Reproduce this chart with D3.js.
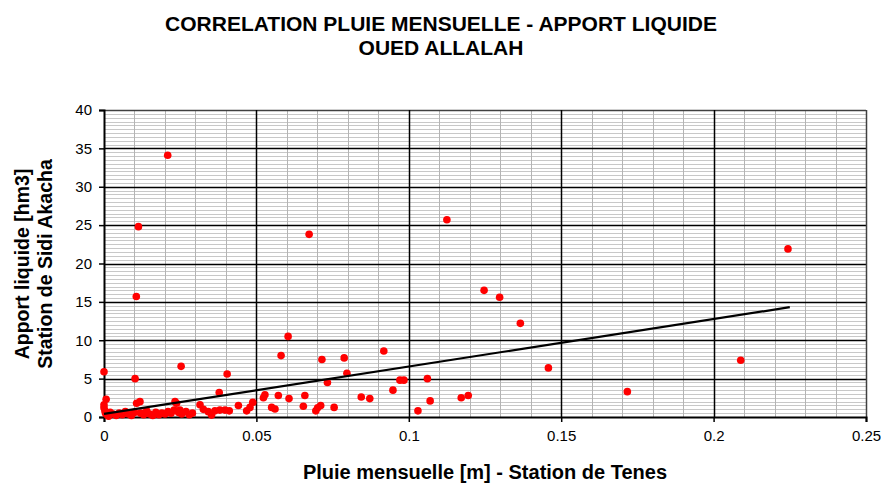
<!DOCTYPE html>
<html>
<head>
<meta charset="utf-8">
<script src="https://cdn.jsdelivr.net/npm/d3@7"></script>
<style>
  html, body { margin: 0; padding: 0; background: #fff; }
  svg { display: block; font-family: "Liberation Sans", Arial, sans-serif; }
</style>
</head>
<body>
<svg id="chart" width="881" height="484"></svg>
<script>
// Monthly rainfall at Tenes (m) versus runoff volume at Sidi Akacha (hm3)
const pluie = [
  0.0209, 0.0113, 0.0106, 0.0102, 0.0000, 0.0253, 0.0404,
  0.0673, 0.1125, 0.1247, 0.1298, 0.0604, 0.0581, 0.0918, 0.0715, 0.0788,
  0.2244, 0.1366, 0.1458, 0.2089, 0.1717, 0.1172, 0.1195,
  0.0797, 0.0971, 0.0984, 0.1061, 0.0948, 0.0844, 0.0872, 0.1070, 0.1030,
  0.0733, 0.0528, 0.0523, 0.0572, 0.0607, 0.0659, 0.0550, 0.0561, 0.0654, 0.0695, 0.0701, 0.0711, 0.0755, 0.0488, 0.0479,
  0.0378, 0.0315, 0.0326, 0.0342, 0.0353, 0.0364, 0.0380, 0.0397, 0.0411, 0.0441, 0.0468, 0.0269, 0.0249,
  0.0007, 0.0000, 0.0000, 0.0003, 0.0005, 0.0010, 0.0015, 0.0020, 0.0030, 0.0040, 0.0050, 0.0060,
  0.0070, 0.0080, 0.0090, 0.0100, 0.0107, 0.0118, 0.0120, 0.0130, 0.0140, 0.0150, 0.0160, 0.0170,
  0.0180, 0.0190, 0.0200, 0.0210, 0.0220, 0.0233, 0.0238, 0.0230, 0.0245, 0.0255, 0.0280, 0.0290
];
const apport = [
  34.1, 24.8, 15.7, 5.0, 5.9, 6.6, 5.6,
  23.8, 25.7, 16.5, 15.6, 10.5, 8.0, 8.6, 7.5, 7.7,
  21.9, 12.2, 6.4, 7.4, 3.3, 2.5, 2.8,
  5.7, 4.8, 4.8, 5.0, 3.5, 2.6, 2.4, 2.1, 0.8,
  4.5, 2.9, 2.5, 2.8, 2.4, 2.8, 1.25, 1.05, 1.4, 0.8, 1.2, 1.5, 1.25, 1.9, 1.25,
  3.2, 1.6, 1.0, 0.7, 0.25, 0.8, 0.9, 0.9, 0.8, 1.5, 0.8, 0.7, 0.9,
  2.3, 1.6, 1.2, 0.8, 0.5, 0.3, 0.1, 0.6, 0.4, 0.2, 0.5, 0.3,
  0.7, 0.4, 0.2, 0.6, 1.8, 2.0, 0.5, 0.3, 0.8, 0.4, 0.2, 0.6,
  0.3, 0.5, 0.4, 0.7, 0.5, 2.0, 1.8, 0.9, 0.6, 0.4, 0.3, 0.5
];

// Linear trend (apport = a * pluie + b) drawn over the observed rainfall range
const trendCoef = [61.8, 0.4];
const trendRange = [0, 0.225];

const xTicks = [0, 0.05, 0.1, 0.15, 0.2, 0.25];
const yTicks = [0, 5, 10, 15, 20, 25, 30, 35, 40];
const titleLines = ["CORRELATION PLUIE MENSUELLE - APPORT LIQUIDE", "OUED ALLALAH"];
const yTitleLines = ["Apport liquide [hm3]", "Station de Sidi Akacha"];
const xTitle = "Pluie mensuelle [m] - Station de Tenes";

const svg = d3.select("#chart");
const plot = { left: 104, right: 866, top: 110, bottom: 417 };

const x = d3.scaleLinear().domain([0, 0.25]).range([plot.left, plot.right]);
const y = d3.scaleLinear().domain([0, 40]).range([plot.bottom, plot.top]);

const g = svg.append("g");

// minor grid
const xMinor = d3.range(0, 0.2501, 0.01).filter(v => Math.abs(v / 0.05 - Math.round(v / 0.05)) > 1e-6);
const yMinor = d3.range(0, 40.01, 0.5).filter(v => Math.abs(v / 5 - Math.round(v / 5)) > 1e-6);

g.selectAll("line.hmin").data(yMinor).join("line")
  .attr("x1", plot.left).attr("x2", plot.right)
  .attr("y1", d => Math.round(y(d)) + 0.5).attr("y2", d => Math.round(y(d)) + 0.5)
  .attr("stroke", "#c8c8c8").attr("stroke-width", 1);

g.selectAll("line.vmin").data(xMinor).join("line")
  .attr("y1", plot.top).attr("y2", plot.bottom)
  .attr("x1", d => Math.round(x(d)) + 0.5).attr("x2", d => Math.round(x(d)) + 0.5)
  .attr("stroke", "#b4b4b4").attr("stroke-width", 1);

// major grid
g.selectAll("line.hmaj").data(yTicks.slice(1)).join("line")
  .attr("x1", plot.left).attr("x2", plot.right)
  .attr("y1", d => Math.round(y(d)) + 0.5).attr("y2", d => Math.round(y(d)) + 0.5)
  .attr("stroke", d => d === 40 ? "#404040" : "#000").attr("stroke-width", 1.5);

g.selectAll("line.vmaj").data(xTicks.slice(1)).join("line")
  .attr("y1", plot.top).attr("y2", plot.bottom)
  .attr("x1", d => Math.round(x(d)) + 0.5).attr("x2", d => Math.round(x(d)) + 0.5)
  .attr("stroke", d => d === 0.25 ? "#404040" : "#000").attr("stroke-width", 1.5);

// axes
const xAxis = d3.axisBottom(x).tickValues(xTicks).tickSize(5).tickPadding(8)
  .tickFormat(d => d === 0 ? "0" : String(d));
const yAxis = d3.axisLeft(y).tickValues(yTicks).tickSize(5).tickPadding(7)
  .tickFormat(d3.format("d"));

const gx = svg.append("g").attr("transform", `translate(0,${plot.bottom})`).call(xAxis);
const gy = svg.append("g").attr("transform", `translate(${plot.left},0)`).call(yAxis);
[gx, gy].forEach(a => {
  a.select(".domain").attr("stroke", "#000").attr("stroke-width", 2);
  a.selectAll(".tick line").attr("stroke", "#000").attr("stroke-width", 1.5);
  a.selectAll(".tick text").attr("fill", "#000").attr("font-size", 15)
    .attr("font-family", "'Liberation Sans', Arial, sans-serif");
});

// points
const pts = pluie.map((p, i) => ({ p, a: apport[i] }));
svg.append("g").selectAll("circle").data(pts).join("circle")
  .attr("cx", d => x(d.p)).attr("cy", d => y(d.a)).attr("r", 3.8)
  .attr("fill", "#ff0000");

// trend line
const line = d3.line().x(d => x(d)).y(d => y(trendCoef[0] * d + trendCoef[1]));
svg.append("path").datum(trendRange).attr("d", line)
  .attr("fill", "none").attr("stroke", "#000").attr("stroke-width", 2.2);

// titles
svg.append("g").selectAll("text").data(titleLines).join("text")
  .attr("x", 441).attr("y", (d, i) => 31 + i * 24)
  .attr("text-anchor", "middle").attr("font-weight", "bold").attr("font-size", 21)
  .text(d => d);

svg.append("g").selectAll("text").data(yTitleLines).join("text")
  .attr("transform", (d, i) => `translate(${29 + i * 23},${264}) rotate(-90)`)
  .attr("text-anchor", "middle").attr("font-weight", "bold").attr("font-size", 19.5)
  .text(d => d);

svg.append("text").attr("x", 485).attr("y", 479)
  .attr("text-anchor", "middle").attr("font-weight", "bold").attr("font-size", 20)
  .text(xTitle);
</script>
</body>
</html>
